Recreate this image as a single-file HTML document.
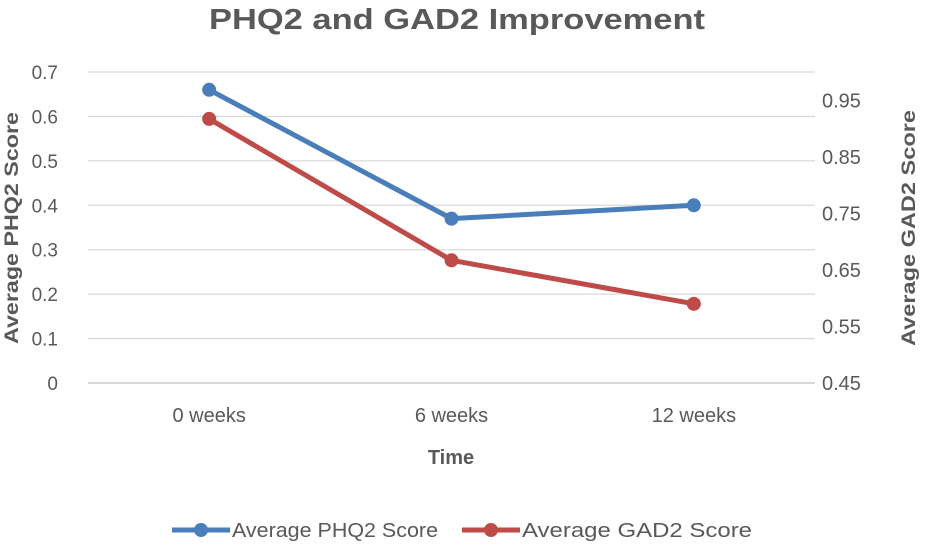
<!DOCTYPE html>
<html><head><meta charset="utf-8"><style>
body{margin:0;background:#fff;}
svg{font-family:"Liberation Sans",sans-serif;}
</style></head><body>
<svg width="925" height="545" xmlns="http://www.w3.org/2000/svg">
<text x="457" y="29" text-anchor="middle" font-size="29" font-weight="bold" fill="#595959" textLength="496" lengthAdjust="spacingAndGlyphs">PHQ2 and GAD2 Improvement</text>
<g id="grid"></g>
<g id="ticks"></g>
<g id="series"></g>
<text transform="translate(18,228) rotate(-90)" text-anchor="middle" font-size="19" font-weight="bold" fill="#595959" textLength="232" lengthAdjust="spacingAndGlyphs">Average PHQ2 Score</text>
<text transform="translate(915,228) rotate(-90)" text-anchor="middle" font-size="19" font-weight="bold" fill="#595959" textLength="236" lengthAdjust="spacingAndGlyphs">Average GAD2 Score</text>
<text x="451" y="464" text-anchor="middle" font-size="20" font-weight="bold" fill="#595959">Time</text>
<g>
<g>
<line x1="172" y1="530" x2="230" y2="530" stroke="#4a7ebb" stroke-width="5"/>
<circle cx="201" cy="530" r="7" fill="#4a7ebb"/>
<text x="232" y="537" font-size="20" fill="#595959" textLength="206" lengthAdjust="spacingAndGlyphs">Average PHQ2 Score</text>
</g>
<g>
<line x1="462" y1="530" x2="520" y2="530" stroke="#be4b48" stroke-width="5"/>
<circle cx="491" cy="530" r="7" fill="#be4b48"/>
<text x="522" y="537" font-size="20" fill="#595959" textLength="230" lengthAdjust="spacingAndGlyphs">Average GAD2 Score</text>
</g>
</g>
</svg>
<script>
const categories=["0 weeks","6 weeks","12 weeks"];
const phq2Values=[0.66,0.37,0.40];
const gad2Values=[0.917,0.667,0.59];
const leftTicks=[0,0.1,0.2,0.3,0.4,0.5,0.6,0.7];
const rightTicks=[0.45,0.55,0.65,0.75,0.85,0.95];
const NS="http://www.w3.org/2000/svg";
const X0=88,X1=815,Y0=383,Y1=72;
const yL=v=>Y0-(v-0)/(0.7-0)*(Y0-Y1);
const yR=v=>Y0-(v-0.45)/(1.0-0.45)*(Y0-Y1);
const xC=i=>X0+(X1-X0)/categories.length*(i+0.5);
function mk(tag,attrs,parent){const e=document.createElementNS(NS,tag);for(const k in attrs)e.setAttribute(k,attrs[k]);parent.appendChild(e);return e;}
const grid=document.getElementById('grid'),ticks=document.getElementById('ticks'),series=document.getElementById('series');
leftTicks.forEach(t=>{
  const l=mk('line',{x1:X0,x2:X1,y1:yL(t),y2:yL(t),stroke:t===0?'#bfbfbf':'#d9d9d9','stroke-width':1.3},grid);
  
  
  const tx=mk('text',{x:58,y:yL(t)+7,'text-anchor':'end','font-size':19,fill:'#595959'},ticks);
  tx.textContent=String(t);
  
  
});
rightTicks.forEach(t=>{
  const tx=mk('text',{x:822,y:yR(t)+7,'font-size':20,fill:'#595959'},ticks);
  tx.textContent=t.toFixed(2);
  
  
});
categories.forEach((c,i)=>{
  const tx=mk('text',{x:xC(i),y:422,'text-anchor':'middle','font-size':20,fill:'#595959'},ticks);
  tx.textContent=c;
  
  
});
function draw(vals,fy,color,name){
  const pl=mk('polyline',{points:vals.map((v,i)=>xC(i)+','+fy(v)).join(' '),fill:'none',stroke:color,'stroke-width':5,'stroke-linejoin':'round'},series);
  
  
  vals.forEach((v,i)=>{
    const c=mk('circle',{cx:xC(i),cy:fy(v),r:7,fill:color},series);
    
    
  });
}
draw(phq2Values,yL,'#4a7ebb','phq2');
draw(gad2Values,yR,'#be4b48','gad2');
</script>
</body></html>
